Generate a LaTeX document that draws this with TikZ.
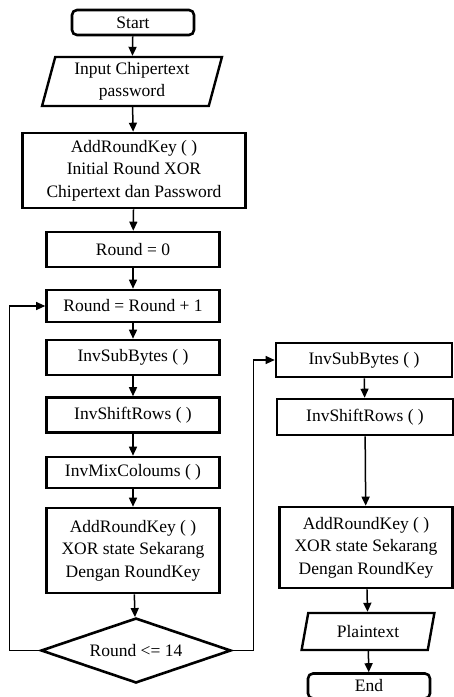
\documentclass[tikz,border=0pt]{standalone}
\usepackage{fontspec}
\setmainfont{Liberation Serif}
\usetikzlibrary{shapes,arrows.meta,positioning}

\begin{document}
\begin{tikzpicture}[x=1pt,y=-1pt,
  every node/.style={font=\fontsize{17.5}{22.5}\selectfont},
  proses/.style={draw, line width=2.6pt, minimum width=173pt, minimum height=35pt, align=center, inner sep=2pt},
  terminal/.style={draw, line width=2.6pt, rounded corners=5pt, minimum width=122pt, minimum height=25pt, inner sep=1pt},
  datain/.style={draw, trapezium, trapezium left angle=76, trapezium right angle=104, trapezium stretches=true, line width=2.4pt, align=center, inner sep=1pt},
  cek/.style={draw, diamond, aspect=2.9, line width=2.6pt, minimum width=190pt, minimum height=65pt, inner sep=0pt},
  panah/.style={-{Triangle[length=9pt,width=8pt]}, line width=1.5pt},
  balik/.style={-{Triangle[length=9pt,width=8pt]}, line width=1.1pt}]

\useasboundingbox (0,0) rectangle (454,697);

% kolom kiri
\node[terminal] (mulai) at (133,22.5) {Start};
\node[datain, minimum width=180pt, minimum height=49pt] (masuk) at (132,81.5) {Input Chipertext\\password};
\node[proses, minimum width=223pt, minimum height=75pt] (ark1) at (134,170.5) {AddRoundKey ( )\\Initial Round XOR\\Chipertext dan Password};
\node[proses] (r0) at (133,249.5) {Round = 0};
\node[proses, minimum height=32pt] (rinc) at (133,306) {Round = Round + 1};
\node[proses] (isb) at (133,357.5) {InvSubBytes ( )};
\node[proses] (isr) at (133,415) {InvShiftRows ( )};
\node[proses, minimum height=31pt] (imc) at (133,472.5) {InvMixColoums ( )};
\node[proses, minimum height=85pt] (ark2) at (133,550.5) {AddRoundKey ( )\\XOR state Sekarang\\Dengan RoundKey};
\node[cek] (cek) at (136,650.5) {Round <= 14};

% kolom kanan
\node[proses, minimum width=176pt, minimum height=34pt] (isb2) at (364,360) {InvSubBytes ( )};
\node[proses, minimum width=176pt, minimum height=36pt] (isr2) at (365,417) {InvShiftRows ( )};
\node[proses, minimum width=173pt, minimum height=81pt] (ark3) at (366,547.5) {AddRoundKey ( )\\XOR state Sekarang\\Dengan RoundKey};
\node[datain, minimum width=133pt, minimum height=37pt] (plain) at (368,631.5) {Plaintext};
\node[terminal] (selesai) at (369,686) {End};

\draw[panah] (mulai) -- (masuk);
\draw[panah] (masuk) -- (ark1);
\draw[panah] (ark1) -- (r0);
\draw[panah] (r0) -- (rinc);
\draw[panah] (rinc) -- (isb);
\draw[panah] (isb) -- (isr);
\draw[panah] (isr) -- (imc);
\draw[panah] (imc) -- (ark2);
\draw[panah] (ark2) -- (cek);

%\draw (cek.south) -- ++(0,10);
\draw[balik] (cek.west) -- ++(-30,0) |- (rinc.west);
\draw[balik] (cek.east) -- ++(21,0) |- (isb2.west);

\draw[panah] (isb2) -- (isr2);
\draw[panah] (isr2) -- (ark3);
\draw[panah] (ark3) -- (plain);
\draw[panah] (plain) -- (selesai);

\end{tikzpicture}
\end{document}
